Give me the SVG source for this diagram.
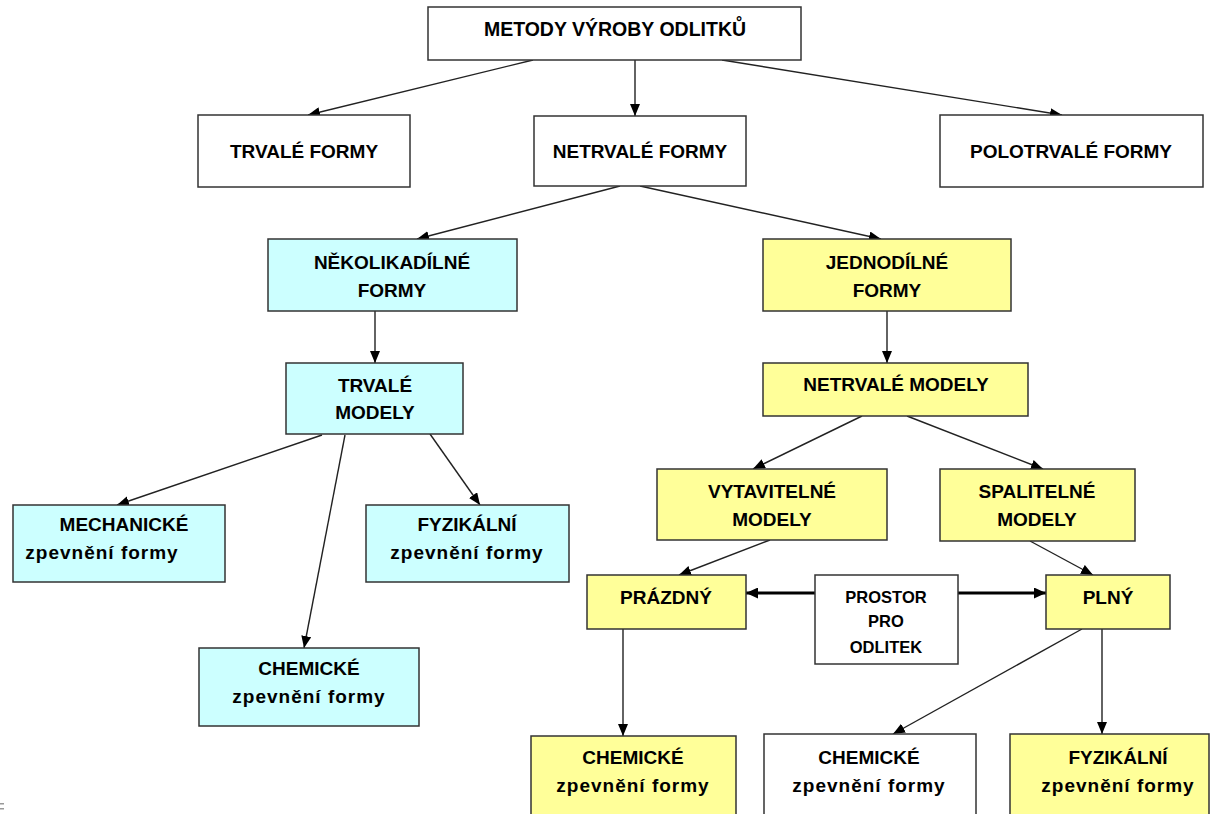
<svg xmlns="http://www.w3.org/2000/svg" width="1214" height="814" viewBox="0 0 1214 814">
<defs>
<style>
.box{stroke:#333;stroke-width:1.5}
.w{fill:#fff}
.c{fill:#ccffff}
.y{fill:#ffff99}
text{font-family:"Liberation Sans",Arial,sans-serif;font-weight:bold;font-size:19px;fill:#000;text-anchor:middle}
.sm{font-size:16.5px}
.lc{letter-spacing:1px}
.ln{stroke:#222;stroke-width:1.4;fill:none;marker-end:url(#ah)}
.thick{stroke:#000;stroke-width:3;fill:none;marker-end:url(#ah2)}
</style>
<marker id="ah" markerWidth="12" markerHeight="10" refX="12" refY="5" orient="auto" markerUnits="userSpaceOnUse"><path d="M0,0 L12,5 L0,10 z" fill="#000"/></marker>
<marker id="ah2" markerWidth="12" markerHeight="11" refX="12" refY="5.5" orient="auto" markerUnits="userSpaceOnUse"><path d="M0,0 L12,5.5 L0,11 z" fill="#000"/></marker>
</defs>
<rect width="1214" height="814" fill="#fff"/>
<g id="connectors">
<line class="ln" x1="533" y1="60" x2="308" y2="115"/>
<line class="ln" x1="635" y1="60" x2="635" y2="116"/>
<line class="ln" x1="722" y1="60" x2="1062" y2="115"/>
<line class="ln" x1="620" y1="186" x2="417" y2="239"/>
<line class="ln" x1="640" y1="186" x2="881" y2="239"/>
<line class="ln" x1="375" y1="311" x2="375" y2="363"/>
<line class="ln" x1="887" y1="311" x2="887" y2="363"/>
<line class="ln" x1="862" y1="416" x2="753" y2="469"/>
<line class="ln" x1="907" y1="416" x2="1043" y2="469"/>
<line class="ln" x1="322" y1="435" x2="117" y2="505"/>
<line class="ln" x1="345" y1="435" x2="304" y2="648"/>
<line class="ln" x1="430" y1="434" x2="480" y2="505"/>
<line class="ln" x1="770" y1="540" x2="679" y2="575"/>
<line class="ln" x1="1030" y1="541" x2="1093" y2="575"/>
<line class="thick" x1="815" y1="593" x2="746" y2="593"/>
<line class="thick" x1="958" y1="593" x2="1046" y2="593"/>
<line class="ln" x1="623" y1="629" x2="623" y2="736"/>
<line class="ln" x1="1082" y1="629" x2="893" y2="734"/>
<line class="ln" x1="1102" y1="629" x2="1102" y2="734"/>
</g>
<g id="n-metody"><rect class="box w" x="428" y="7" width="373" height="53"/><text x="615" y="36" style="font-size:19.5px">METODY VÝROBY ODLITKŮ</text></g>
<g id="n-trvale-formy"><rect class="box w" x="198" y="115" width="212" height="72"/><text x="304" y="158">TRVALÉ FORMY</text></g>
<g id="n-netrvale-formy"><rect class="box w" x="534" y="116" width="212" height="70"/><text x="640" y="158">NETRVALÉ FORMY</text></g>
<g id="n-polotrvale"><rect class="box w" x="940" y="115" width="263" height="72"/><text x="1071" y="158">POLOTRVALÉ FORMY</text></g>
<g id="n-nekolikadilne"><rect class="box c" x="268" y="239" width="249" height="72"/><text x="392" y="269">NĚKOLIKADÍLNÉ</text><text x="392" y="297">FORMY</text></g>
<g id="n-jednodilne"><rect class="box y" x="763" y="239" width="248" height="72"/><text x="887" y="269">JEDNODÍLNÉ</text><text x="887" y="297">FORMY</text></g>
<g id="n-trvale-modely"><rect class="box c" x="286" y="363" width="177" height="71"/><text x="375" y="392">TRVALÉ</text><text x="375" y="419">MODELY</text></g>
<g id="n-netrvale-modely"><rect class="box y" x="763" y="363" width="265" height="53"/><text x="896" y="391">NETRVALÉ MODELY</text></g>
<g id="n-vytavitelne"><rect class="box y" x="657" y="469" width="230" height="71"/><text x="772" y="498">VYTAVITELNÉ</text><text x="772" y="526">MODELY</text></g>
<g id="n-spalitelne"><rect class="box y" x="940" y="469" width="195" height="72"/><text x="1037" y="498">SPALITELNÉ</text><text x="1037" y="526">MODELY</text></g>
<g id="n-mechanicke"><rect class="box c" x="13" y="505" width="212" height="77"/><text x="124" y="531">MECHANICKÉ</text><text class="lc" x="102" y="559">zpevnění formy</text></g>
<g id="n-fyzikalni-l"><rect class="box c" x="366" y="505" width="203" height="77"/><text x="467" y="531">FYZIKÁLNÍ</text><text class="lc" x="467" y="559">zpevnění formy</text></g>
<g id="n-chemicke-l"><rect class="box c" x="199" y="648" width="220" height="78"/><text x="309" y="675">CHEMICKÉ</text><text class="lc" x="309" y="703">zpevnění formy</text></g>
<g id="n-prazdny"><rect class="box y" x="587" y="575" width="159" height="54"/><text x="666" y="604">PRÁZDNÝ</text></g>
<g id="n-prostor"><rect class="box w" x="815" y="575" width="143" height="89"/><text class="sm" x="886" y="603">PROSTOR</text><text class="sm" x="886" y="627">PRO</text><text class="sm" x="886" y="653">ODLITEK</text></g>
<g id="n-plny"><rect class="box y" x="1046" y="575" width="124" height="54"/><text x="1108" y="604">PLNÝ</text></g>
<g id="n-chemicke-y"><rect class="box y" x="531" y="736" width="205" height="100"/><text x="633" y="764">CHEMICKÉ</text><text class="lc" x="633" y="792">zpevnění formy</text></g>
<g id="n-chemicke-w"><rect class="box w" x="764" y="734" width="212" height="100"/><text x="869" y="764">CHEMICKÉ</text><text class="lc" x="869" y="792">zpevnění formy</text></g>
<g id="n-fyzikalni-r"><rect class="box y" x="1010" y="734" width="199" height="100"/><text x="1118" y="764">FYZIKÁLNÍ</text><text class="lc" x="1118" y="792">zpevnění formy</text></g>
<rect x="0" y="803" width="4" height="1.5" fill="#999"/>
<rect x="0" y="808" width="4" height="1.5" fill="#999"/>
</svg>
